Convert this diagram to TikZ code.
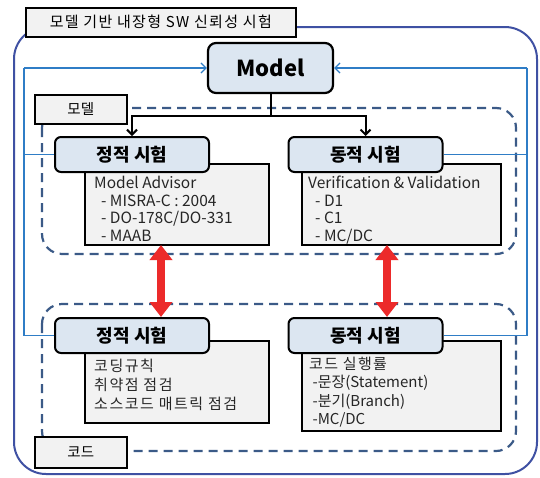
\documentclass[tikz,border=0pt]{standalone}
\usepackage{fontspec}
\setmainfont{Noto Sans CJK KR}
\usetikzlibrary{arrows.meta}
\definecolor{outerblue}{HTML}{3F51A3}
\definecolor{dashblue}{HTML}{3B5A87}
\definecolor{fbblue}{HTML}{2F7DC6}
\definecolor{hdrfill}{HTML}{DCE6F1}
\definecolor{bodyfill}{HTML}{F2F2F2}
\definecolor{arrred}{HTML}{EC2A2A}
\definecolor{txtgray}{HTML}{262626}
\newcommand\krls{\addfontfeature{LetterSpace=9}}
\begin{document}
\begin{tikzpicture}[x=1pt,y=-1pt,
  labelbox/.style={draw=black, fill=bodyfill, line width=1.6pt, inner sep=0pt, font=\fontsize{14.5}{16}\selectfont},
  hdr/.style={draw=black, fill=hdrfill, line width=2pt, rounded corners=6pt, inner sep=0pt, minimum width=154pt, minimum height=35pt, font=\fontsize{18}{20}\selectfont\bfseries},
  bodybox/.style={draw=black, fill=bodyfill, line width=1.8pt, inner sep=0pt, anchor=north west},
  bodytext/.style={anchor=north west, inner sep=0pt, align=left, text=txtgray},
  dashline/.style={draw=dashblue, line width=2.2pt, dash pattern=on 9pt off 6pt, rounded corners=20pt},
  fb/.style={draw=fbblue, line width=1.3pt},
  fbarrow/.style={fb, -{Straight Barb[length=5pt,width=10pt]}},
  blk/.style={draw=black, line width=2pt},
  blkarrow/.style={blk, -{Straight Barb[length=5pt,width=10pt]}},
  redarrow/.style={draw=arrred, line width=8pt, {Triangle[width=22pt,length=15pt]}-{Triangle[width=22pt,length=15pt]}}
]
\useasboundingbox (0,0) rectangle (540,477);

% outer frame
\draw[outerblue, line width=2pt, rounded corners=32pt] (14,27) rectangle (537,474);
\node[labelbox, anchor=north west, minimum width=270pt, minimum height=29pt, font=\fontsize{15}{16}\selectfont\krls] (title) at (25,7) {모델 기반 내장형 SW 신뢰성 시험};

% feedback coordinates
\coordinate (lt) at (24,68);
\coordinate (rt) at (527,68);

% dashed groups
\draw[dashline] (42,108) rectangle (516,254);
\draw[dashline] (42,304) rectangle (516,451);
\node[labelbox, anchor=north west, minimum width=92pt, minimum height=29pt] (mlabel) at (34,94) {모델};
\node[labelbox, anchor=north west, minimum width=92pt, minimum height=31pt] (clabel) at (34,436) {코드};

% Model node
\node[draw=black, fill=hdrfill, line width=2.2pt, rounded corners=8pt, minimum width=125pt, minimum height=50pt, inner sep=0pt, font=\fontsize{22}{24}\selectfont\bfseries] (model) at (270.5,68) {Model};

% body boxes
\node[bodybox, minimum width=184pt, minimum height=81pt] (b1) at (84,163) {};
\node[bodybox, minimum width=199pt, minimum height=81pt] (b2) at (301,163) {};
\node[bodybox, minimum width=184pt, minimum height=82pt] (b3) at (84,340) {};
\node[bodybox, minimum width=199pt, minimum height=90pt] (b4) at (301,340) {};

% headers
\node[hdr] (s1) at (132,154.5) {정적 시험};
\node[hdr] (d1) at (365.5,154.5) {동적 시험};
\node[hdr] (s2) at (132,335.5) {정적 시험};
\node[hdr] (d2) at (365.5,335.5) {동적 시험};

% black connectors
\coordinate (j) at (270.5,116);
\draw[blk] (model.south) -- (j);
\draw[blkarrow] (j) -| (s1.north);
\draw[blkarrow] (j) -| (d1.north);

% blue feedback
\draw[fb] (s2.west) -| (lt);
\draw[fb] (s1.west) -- (s1.west -| lt);
\draw[fbarrow] (lt) -- (model.west);
\draw[fb] (d2.east) -| (rt);
\draw[fb] (d1.east) -- (d1.east -| rt);
\draw[fbarrow] (rt) -- (model.east);

% body texts
\node[bodytext, font=\fontsize{15.5}{17.5}\selectfont] (t1) at (94,176) {Model Advisor\\\ \ - MISRA-C : 2004\\\ \ - DO-178C/DO-331\\\ \ - MAAB};
\node[bodytext, font=\fontsize{15.5}{17.5}\selectfont] (t2) at (308,176) {Verification \& Validation\\\ \ - D1\\\ \ - C1\\\ \ - MC/DC};
\node[bodytext, font=\fontsize{15}{19}\selectfont\addfontfeature{LetterSpace=10}] (t3) at (94,359) {코딩규칙\\취약점 점검\\소스코드 매트릭 점검};
\node[bodytext, font=\fontsize{15}{18.3}\selectfont] (t4) at (309,357) {{\krls 코드 실행률}\\\ -문장(Statement)\\\ -분기(Branch)\\\ -MC/DC};

% red arrows
\coordinate (ra1) at (161,245);
\coordinate (ra2) at (161,317);
\coordinate (rb1) at (387,245);
\coordinate (rb2) at (387,317);
\draw[redarrow] (ra1) -- (ra2);
\draw[redarrow] (rb1) -- (rb2);
\end{tikzpicture}
\end{document}
